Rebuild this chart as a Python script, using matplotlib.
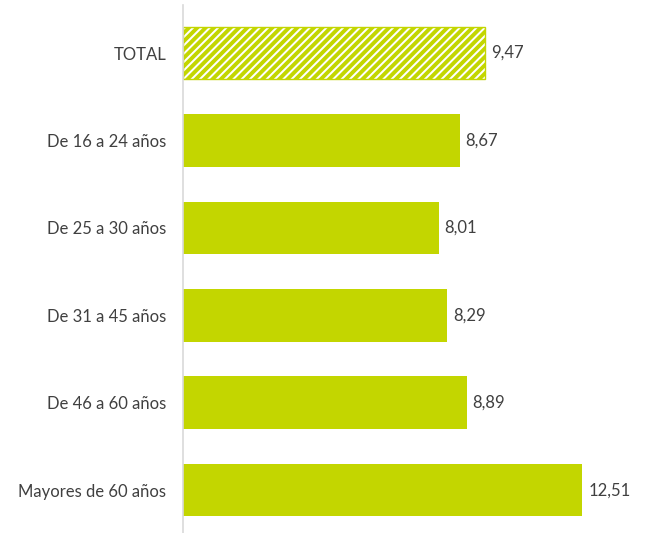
import matplotlib
matplotlib.use("Agg")
import matplotlib.pyplot as plt

# datos
categorias = ["TOTAL", "De 16 a 24 años", "De 25 a 30 años", "De 31 a 45 años",
              "De 46 a 60 años", "Mayores de 60 años"]
valores = [9.47, 8.67, 8.01, 8.29, 8.89, 12.51]

verde = "#c3d600"
gris_texto = "#404040"

plt.rcParams['font.family'] = ['Lato', 'DejaVu Sans']
plt.rcParams['hatch.linewidth'] = 2.8

fig = plt.figure(figsize=(6.46, 5.33), dpi=100)
ax = fig.add_axes([183 / 646, 0, (646 - 183) / 646, 528 / 533])

pos = list(range(len(categorias)))
barras = ax.barh(pos, valores, height=0.6, color=verde, edgecolor=verde, linewidth=0)

# la barra TOTAL va rayada
barras[0].set_facecolor("white")
barras[0].set_hatch("////")
barras[0].set_linewidth(1)

for p, v in zip(pos, valores):
    ax.text(v + 0.19, p, f"{v:.2f}".replace(".", ","), va="center", ha="left",
            fontsize=12, color=gris_texto)

ax.set_yticks(pos)
ax.set_yticklabels(categorias, fontsize=12, color=gris_texto)
ax.tick_params(axis="y", length=0, pad=12)
ax.set_xticks([])

ax.set_xlim(0, (646 - 183) / 31.9)
ax.set_ylim(5.49, -0.549)

for s in ["top", "right", "bottom"]:
    ax.spines[s].set_visible(False)
ax.spines["left"].set_color("#d9d9d9")
ax.spines["left"].set_linewidth(1.2)

plt.savefig("out.png", dpi=100)
